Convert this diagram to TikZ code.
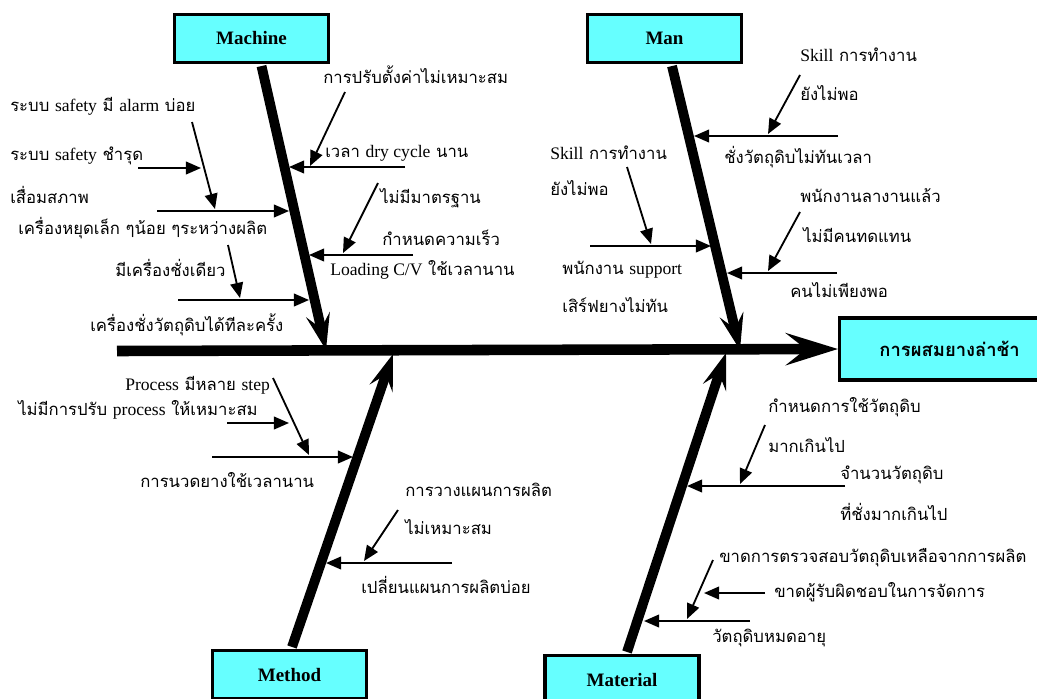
\documentclass[tikz,border=0pt]{standalone}
\usepackage{fontspec}
\setmainfont{Loma}[Script=Thai, Scale=0.95]
\newfontfamily\engfont{Liberation Serif}
\newcommand{\eng}[1]{{\engfont #1}}
\usetikzlibrary{arrows.meta, calc}
\definecolor{boxcyan}{HTML}{66FFFF}

\begin{document}
\begin{tikzpicture}[x=0.025cm, y=-0.025cm]
		\tikzset{
			catbox/.style={draw, line width=2.2pt, fill=boxcyan, minimum width=3.85cm, minimum height=1.2cm, font=\engfont\bfseries\fontsize{13.5}{15}\selectfont},
			effectbox/.style={draw, line width=2.2pt, fill=boxcyan, minimum width=5.5cm, minimum height=1.55cm, anchor=west, font=\bfseries\fontsize{13.8}{15}\selectfont},
			bone/.style={line width=7pt, -{Stealth[length=0.9cm, width=0.6cm, inset=0.35cm]}},
			spine/.style={line width=7.5pt, -{Stealth[length=1.3cm, width=0.8cm, inset=0.5cm]}},
			cause/.style={line width=1.3pt, -{Triangle[length=0.38cm, width=0.32cm]}},
			lbl/.style={anchor=west, inner sep=0pt, font=\fontsize{12.5}{14}\selectfont}
		}
		\useasboundingbox (0,0) rectangle (1037,698);
		\clip (0,0) rectangle (1037,698);
		
		% Head and category boxes
		\node[effectbox] (effect) at (838,349) {การผสมยางล่าช้า};
		\node[catbox] (machine) at (251.5,38.5) {Machine};
		\node[catbox] (man) at (664.5,38.5) {Man};
		\node[catbox] (method) at (289.5,674.5) {Method};
		\node[catbox] (material) at (622,679.5) {Material};
		
		% Spine and bones
		\coordinate (tail) at (117,351);
		\coordinate (mtip) at (326,350);
		\coordinate (ntip) at (740,350);
		\coordinate (ptip) at (393,354);
		\coordinate (ttip) at (726,353);
		\draw[spine] (tail) -- (effect.west);
		\draw[bone] ($(machine.south)+(10,2)$) -- (mtip);
		\draw[bone] ($(man.south)+(7.5,2)$) -- (ntip);
		\draw[bone] ($(method.north)+(2.5,-2)$) -- (ptip);
		\draw[bone] ($(material.north)+(5,-2)$) -- (ttip);
		
		% Machine causes
		\node[lbl] (m1) at (323,75) {การปรับตั้งค่าไม่เหมาะสม};
		\node[lbl] (m2) at (325,153) {เวลา \eng{dry cycle} นาน};
		\node[lbl] (m3) at (10,106) {ระบบ \eng{safety} มี \eng{alarm} บ่อย};
		\node[lbl] (m4) at (10,156) {ระบบ \eng{safety} ชำรุด};
		\node[lbl] (m5) at (10,195) {เสื่อมสภาพ};
		\node[lbl] (m6) at (18,228) {เครื่องหยุดเล็ก ๆน้อย ๆระหว่างผลิต};
		\node[lbl] (m7) at (115,268) {มีเครื่องชั่งเดียว};
		\node[lbl] (m8) at (90,325) {เครื่องชั่งวัตถุดิบได้ทีละครั้ง};
		\node[lbl] (m9) at (380,198) {ไม่มีมาตรฐาน};
		\node[lbl] (m10) at (382,238) {กำหนดความเร็ว};
		\node[lbl] (m11) at (330,270) {\eng{Loading C/V} ใช้เวลานาน};
		
		\coordinate (m1a) at (345,92);   \coordinate (m1b) at (310,166);
		\coordinate (m2a) at (405,167);  \coordinate (m2b) at (289,167);
		\coordinate (m3a) at (192,122);  \coordinate (m3b) at (215,209);
		\coordinate (m4a) at (138,168);  \coordinate (m4b) at (201,168);
		\coordinate (m6a) at (157,211);  \coordinate (m6b) at (289,211);
		\coordinate (m7a) at (228,245);  \coordinate (m7b) at (240,298);
		\coordinate (m8a) at (178,300);  \coordinate (m8b) at (309,300);
		\coordinate (m9a) at (378,183);  \coordinate (m9b) at (343,253);
		\coordinate (m11a) at (413,255); \coordinate (m11b) at (309,255);
		\draw[cause] (m1a) -- (m1b);
		\draw[cause] (m2a) -- (m2b);
		\draw[cause] (m3a) -- (m3b);
		\draw[cause] (m4a) -- (m4b);
		\draw[cause] (m6a) -- (m6b);
		\draw[cause] (m7a) -- (m7b);
		\draw[cause] (m8a) -- (m8b);
		\draw[cause] (m9a) -- (m9b);
		\draw[cause] (m11a) -- (m11b);
		
		% Man causes
		\node[lbl] (n1) at (800,55) {\eng{Skill} การทำงาน};
		\node[lbl] (n2) at (800,93) {ยังไม่พอ};
		\node[lbl] (n3) at (724,157) {ชั่งวัตถุดิบไม่ทันเวลา};
		\node[lbl] (n4) at (550,153) {\eng{Skill} การทำงาน};
		\node[lbl] (n5) at (550,188) {ยังไม่พอ};
		\node[lbl] (n6) at (562,270) {พนักงาน \eng{support}};
		\node[lbl] (n7) at (562,305) {เสิร์ฟยางไม่ทัน};
		\node[lbl] (n8) at (800,196) {พนักงานลางานแล้ว};
		\node[lbl] (n9) at (803,235) {ไม่มีคนทดแทน};
		\node[lbl] (n10) at (790,290) {คนไม่เพียงพอ};
		
		\coordinate (n1a) at (800,75);   \coordinate (n1b) at (768,134);
		\coordinate (n3a) at (838,136);  \coordinate (n3b) at (694,136);
		\coordinate (n4a) at (627,167);  \coordinate (n4b) at (651,244);
		\coordinate (n6a) at (590,246);  \coordinate (n6b) at (711,246);
		\coordinate (n8a) at (800,212);  \coordinate (n8b) at (768,271);
		\coordinate (n10a) at (837,273); \coordinate (n10b) at (727,273);
		\draw[cause] (n1a) -- (n1b);
		\draw[cause] (n3a) -- (n3b);
		\draw[cause] (n4a) -- (n4b);
		\draw[cause] (n6a) -- (n6b);
		\draw[cause] (n8a) -- (n8b);
		\draw[cause] (n10a) -- (n10b);
		
		% Method causes
		\node[lbl] (p1) at (125,385) {\eng{Process} มีหลาย \eng{step}};
		\node[lbl] (p2) at (18,410) {ไม่มีการปรับ \eng{process} ให้เหมาะสม};
		\node[lbl] (p3) at (140,480) {การนวดยางใช้เวลานาน};
		\node[lbl] (p4) at (405,490) {การวางแผนการผลิต};
		\node[lbl] (p5) at (405,527) {ไม่เหมาะสม};
		\node[lbl] (p6) at (361,585) {เปลี่ยนแผนการผลิตบ่อย};
		
		\coordinate (p1a) at (273,378);  \coordinate (p1b) at (309,455);
		\coordinate (p2a) at (227,423);  \coordinate (p2b) at (289,423);
		\coordinate (p3a) at (212,457);  \coordinate (p3b) at (353,457);
		\coordinate (p4a) at (398,510);  \coordinate (p4b) at (364,561);
		\coordinate (p6a) at (452,563);  \coordinate (p6b) at (326,563);
		\draw[cause] (p1a) -- (p1b);
		\draw[cause] (p2a) -- (p2b);
		\draw[cause] (p3a) -- (p3b);
		\draw[cause] (p4a) -- (p4b);
		\draw[cause] (p6a) -- (p6b);
		
		% Material causes
		\node[lbl] (t1) at (768,407) {กำหนดการใช้วัตถุดิบ};
		\node[lbl] (t2) at (768,445) {มากเกินไป};
		\node[lbl] (t3) at (840,475) {จำนวนวัตถุดิบ};
		\node[lbl] (t4) at (840,512) {ที่ชั่งมากเกินไป};
		\node[lbl] (t5) at (719,558) {ขาดการตรวจสอบวัตถุดิบเหลือจากการผลิต};
		\node[lbl] (t6) at (774,592) {ขาดผู้รับผิดชอบในการจัดการ};
		\node[lbl] (t7) at (712,638) {วัตถุดิบหมดอายุ};
		
		\coordinate (t1a) at (765,425);  \coordinate (t1b) at (740,484);
		\coordinate (t3a) at (845,486);  \coordinate (t3b) at (687,486);
		\coordinate (t5a) at (713,560);  \coordinate (t5b) at (687,619);
		\coordinate (t6a) at (765,593);  \coordinate (t6b) at (704,593);
		\coordinate (t7a) at (750,621);  \coordinate (t7b) at (644,621);
		\draw[cause] (t1a) -- (t1b);
		\draw[cause] (t3a) -- (t3b);
		\draw[cause] (t5a) -- (t5b);
		\draw[cause] (t6a) -- (t6b);
		\draw[cause] (t7a) -- (t7b);
		
	\end{tikzpicture}
\end{document}
